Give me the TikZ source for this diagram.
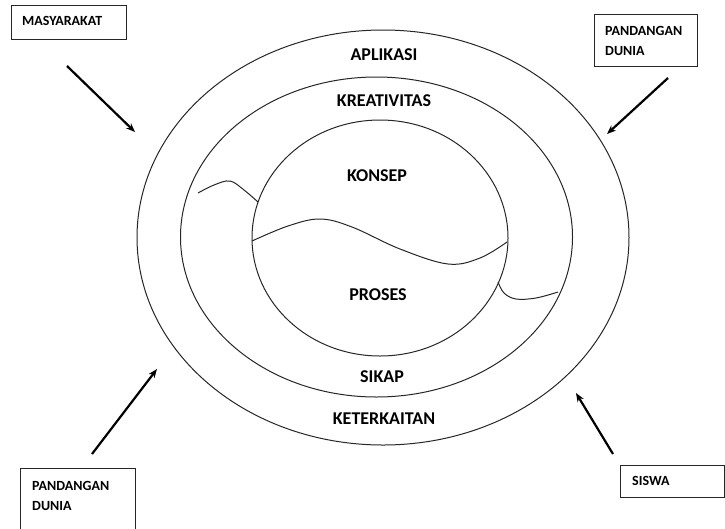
\documentclass[tikz,border=0pt]{standalone}
\usepackage{fontspec}
\setmainfont{Carlito}
\usetikzlibrary{arrows.meta}
\tikzset{
  ring/.style={draw=black!85, line width=1pt},
  wave/.style={draw=black!85, line width=1pt},
  lbl/.style={font=\fontsize{18}{20}\selectfont\bfseries, inner sep=0pt},
  boxlbl/.style={font=\fontsize{14}{20}\selectfont\bfseries, inner sep=0pt, anchor=west, align=left},
  frame/.style={draw=black!85, line width=0.8pt},
  influence/.style={line width=2.2pt, -{Stealth[length=9pt,width=7pt]}}
}
\begin{document}
\begin{tikzpicture}[x=1pt,y=-1pt]
\useasboundingbox (0,0) rectangle (725,528);
\clip (0,0) rectangle (725,528);
% rings
\draw[ring] (383,237.5) ellipse [x radius=246, y radius=207.5];
\draw[ring] (376.5,237) ellipse [x radius=196, y radius=160];
\draw[ring] (380,238) ellipse [x radius=128, y radius=118];
% waves
\draw[wave] plot[smooth, tension=0.6] coordinates {(198,193) (214,185) (230,181) (244,190) (258,202)};
\draw[wave] plot[smooth, tension=0.6] coordinates {(252,241) (288,226) (320,219) (352,227) (400,249) (448,264) (480,258) (507,242)};
\draw[wave] plot[smooth, tension=0.6] coordinates {(498,282) (504,293) (516,299) (536,298) (558,292)};
% labels
\node[lbl] (aplikasi) at (384,55) {APLIKASI};
\node[lbl] (kreativitas) at (384,101) {KREATIVITAS};
\node[lbl] (konsep) at (377,176) {KONSEP};
\node[lbl] (proses) at (378,295) {PROSES};
\node[lbl] (sikap) at (382,377) {SIKAP};
\node[lbl] (keterkaitan) at (384,419) {KETERKAITAN};
% boxes
\draw[frame] (11,5) rectangle (126,39);
\node[boxlbl] (masyarakat) at (22,21) {MASYARAKAT};
\draw[frame] (594,14) rectangle (697,66);
\node[boxlbl] (pdtop) at (605,31) {PANDANGAN};
\node[boxlbl] (pdtop2) at (605,51) {DUNIA};
\draw[frame] (20,468) rectangle (135,540);
\node[boxlbl] (pdbot) at (32,486) {PANDANGAN};
\node[boxlbl] (pdbot2) at (32,506) {DUNIA};
\draw[frame] (620,465) rectangle (724.5,497);
\node[boxlbl] (siswa) at (632,481) {SISWA};
% arrows
\coordinate (a1s) at (67,66);  \coordinate (a1e) at (135,132);
\coordinate (a2s) at (668,78); \coordinate (a2e) at (607,134);
\coordinate (a3s) at (92,454); \coordinate (a3e) at (157,369);
\coordinate (a4s) at (613,454); \coordinate (a4e) at (576,393);
\draw[influence] (a1s) -- (a1e);
\draw[influence] (a2s) -- (a2e);
\draw[influence] (a3s) -- (a3e);
\draw[influence] (a4s) -- (a4e);
\end{tikzpicture}
\end{document}
